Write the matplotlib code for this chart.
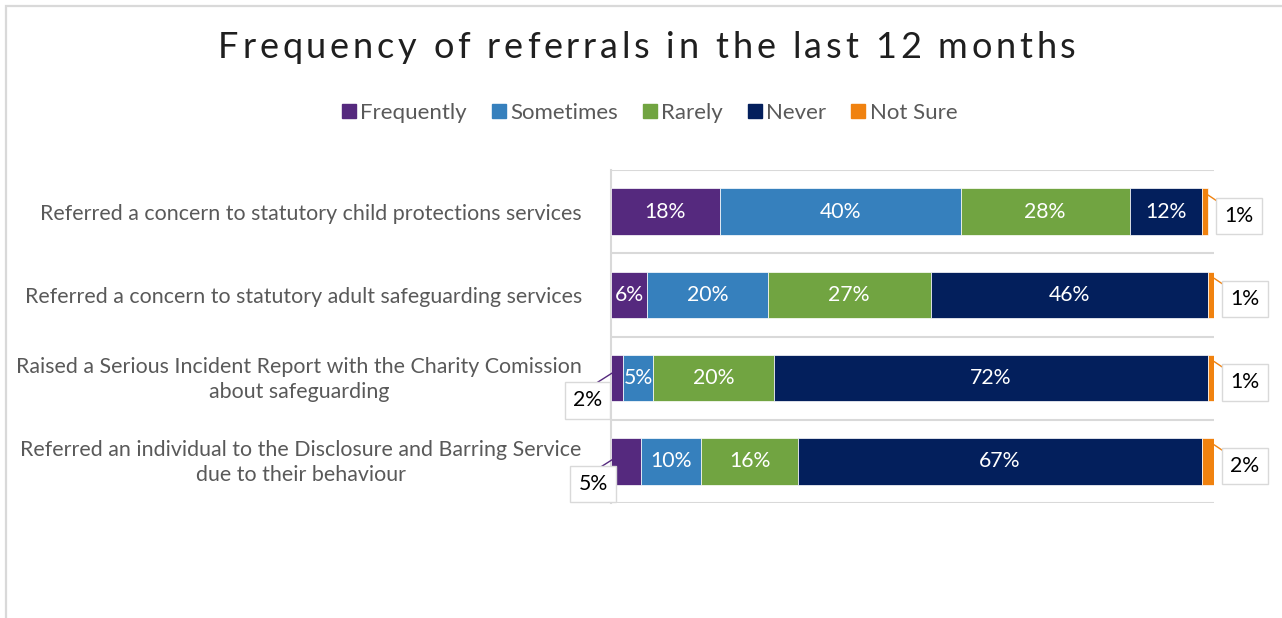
import matplotlib.pyplot as plt
from matplotlib.patches import Rectangle
from matplotlib.lines import Line2D
from matplotlib.font_manager import FontProperties
from matplotlib.transforms import ScaledTranslation
import numpy as np

# survey results, % of respondents per answer
categories = [
    "Referred a concern to statutory child protections services",
    "Referred a concern to statutory adult safeguarding services",
    "Raised a Serious Incident Report with the Charity Comission\nabout safeguarding",
    "Referred an individual to the Disclosure and Barring Service\ndue to their behaviour",
]
series = ["Frequently", "Sometimes", "Rarely", "Never", "Not Sure"]
frequently = [18, 6, 2, 5]
sometimes = [40, 20, 5, 10]
rarely = [28, 27, 20, 16]
never = [12, 46, 72, 67]
not_sure = [1, 1, 1, 2]

colors = ["#55297e", "#3680bd", "#71a441", "#031f5c", "#f0820f"]
title = "Frequency of referrals in the last 12 months"

FONT = ["Lato", "DejaVu Sans"]
plt.rcParams["font.family"] = FONT
W, H = 1282, 618

fig = plt.figure(figsize=(W / 100, H / 100), dpi=100)
fig.patch.set_facecolor("white")

# outer chart border (top and left edges visible)
fig.patches.append(Rectangle((6 / W, -0.2), 2.0, 1.2 - 6 / H, transform=fig.transFigure,
                             fill=False, edgecolor="#d9d9d9", linewidth=1.6))

ax = fig.add_axes([611 / W, 1 - 503 / H, 603 / W, 333 / H])

y = np.arange(len(categories))
values = [frequently, sometimes, rarely, never, not_sure]
left_labels = {("Frequently", 2), ("Frequently", 3)}

LBL = 15.3
box = dict(boxstyle="square,pad=0.38", facecolor="white", edgecolor="#d9d9d9", linewidth=1)
left = np.zeros(len(categories))
for name, vals, col in zip(series, values, colors):
    vals = np.array(vals, dtype=float)
    ax.barh(y, vals, left=left, height=0.56, color=col, edgecolor="white",
            linewidth=0.5, label=name, zorder=3)
    for i, (l, v) in enumerate(zip(left, vals)):
        txt = f"{v:.0f}%"
        if name == "Not Sure":
            ax.annotate(txt, xy=(l + v, y[i] - 0.2), xytext=(31, -21),
                        textcoords="offset pixels", ha="center", va="center",
                        fontsize=LBL, color="black", bbox=box, zorder=5,
                        arrowprops=dict(arrowstyle="-", color=col, lw=1,
                                        patchA=None, shrinkA=0, shrinkB=0,
                                        relpos=(0.0, 1.0)))
        elif (name, i) in left_labels:
            ax.annotate(txt, xy=(l + v * 0.3, y[i] - 0.08), xytext=(-27, -29),
                        textcoords="offset pixels", ha="center", va="center",
                        fontsize=LBL, color="black", bbox=box, zorder=5,
                        arrowprops=dict(arrowstyle="-", color=col, lw=1,
                                        patchA=None, shrinkA=0, shrinkB=0,
                                        relpos=(0.4, 1.0)))
        else:
            ax.text(l + v / 2, y[i], txt, ha="center", va="center",
                    fontsize=LBL, color="white", zorder=4)
    left += vals

ax.set_xlim(0, 100)
ax.set_ylim(len(categories) - 0.5, -0.5)
ax.set_xticks([])
ax.set_yticks(y)
ax.set_yticklabels(categories, fontsize=15.4, color="#595959",
                   multialignment="center", linespacing=1.3)
ax.tick_params(axis="y", length=0, pad=21)
# two-line labels sit a touch high so they stay centred on their bar
for lbl in ax.get_yticklabels():
    if "\n" in lbl.get_text():
        lbl.set_transform(lbl.get_transform() + ScaledTranslation(0, 3 / 100, fig.dpi_scale_trans))

# category separators
for b in np.arange(len(categories) + 1) - 0.5:
    ax.axhline(b, color="#d9d9d9", linewidth=1.5, zorder=1)
for s in ["top", "right", "bottom"]:
    ax.spines[s].set_visible(False)
ax.spines["left"].set_color("#d9d9d9")
ax.spines["left"].set_linewidth(1.5)

# legend
handles = [Line2D([], [], marker="s", linestyle="none", markersize=10,
                  markerfacecolor=c, markeredgecolor=c) for c in colors]
fig.legend(handles, series, loc="center", bbox_to_anchor=(0.5 + 7 / W, 1 - 113 / H),
           ncol=5, frameon=False, fontsize=16, labelcolor="#595959",
           handletextpad=0.05, columnspacing=1.0, handlelength=0.9)

# title with wide letter spacing
fp = FontProperties(family=FONT, size=26)
renderer = fig.canvas.get_renderer()


def text_w(s):
    return renderer.get_text_width_height_descent(s, fp, ismath=False)[0]


track = 3.8
bar_w = text_w("|")
offsets = [text_w(title[:i] + "|") - bar_w if i else 0 for i in range(len(title))]
total = text_w(title) + track * (len(title) - 1)
x0 = 647 - total / 2
for i, ch in enumerate(title):
    fig.text((x0 + offsets[i] + track * i) / W, 1 - 48 / H, ch, fontproperties=fp,
             color="#1f1f1f", ha="left", va="center")

fig.savefig("out.png", dpi=100, facecolor="white")
